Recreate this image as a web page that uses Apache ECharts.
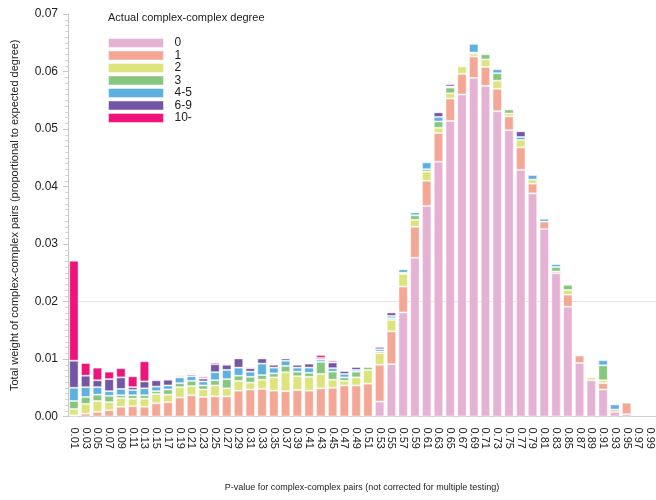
<!DOCTYPE html>
<html>
<head>
<meta charset="utf-8">
<script src="https://cdn.jsdelivr.net/npm/echarts@6/dist/echarts.min.js"></script>
<style>
  html, body { margin: 0; padding: 0; background: #ffffff; }
  #chart { width: 656px; height: 500px; }
</style>
</head>
<body>
<div id="chart"></div>
<script>
// P-value bins (bin centres)
const categories = ['0.01','0.03','0.05','0.07','0.09','0.11','0.13','0.15','0.17','0.19',
  '0.21','0.23','0.25','0.27','0.29','0.31','0.33','0.35','0.37','0.39',
  '0.41','0.43','0.45','0.47','0.49','0.51','0.53','0.55','0.57','0.59',
  '0.61','0.63','0.65','0.67','0.69','0.71','0.73','0.75','0.77','0.79',
  '0.81','0.83','0.85','0.87','0.89','0.91','0.93','0.95','0.97','0.99'];

// Stacked weights per actual complex-complex degree
const deg0 = [0,0,0,0,0,0,0,0,0,0,
  0,0,0,0,0,0,0,0,0,0,
  0,0,0,0,0,0,0.0026,0.0091,0.0181,0.0276,
  0.0366,0.0443,0.0514,0.0560,0.0589,0.0575,0.0531,0.0498,0.0429,0.0388,
  0.0326,0.0249,0.0191,0.0093,0.0063,0.0047,0.0008,0.0004,0,0];
const deg1 = [0.0002,0.0005,0.0008,0.0011,0.0017,0.0018,0.0017,0.0023,0.0025,0.0033,
  0.0037,0.0034,0.0035,0.0035,0.0045,0.0047,0.0048,0.0045,0.0044,0.0046,
  0.0045,0.0049,0.0050,0.0054,0.0054,0.0057,0.0064,0.0057,0.0045,0.0054,
  0.0044,0.0050,0.0039,0.0036,0.0037,0.0033,0.0039,0.0024,0.0039,0.0017,
  0.0013,0.0003,0.0021,0.0013,0,0.0011,0.0004,0.0020,0,0];
const deg2 = [0.0011,0.0017,0.0019,0.0014,0.0015,0.0013,0.0014,0.0016,0.0013,0.0018,
  0.0016,0.0013,0.0019,0.0014,0.0017,0.0012,0.0016,0.0023,0.0033,0.0024,
  0.0024,0.0025,0.0014,0.0008,0.0014,0.0024,0.0020,0.0020,0.0022,0.0012,
  0.0016,0.0009,0.0009,0.0013,0.0005,0.0013,0.0014,0.0005,0.0013,0.0007,
  0,0,0.0008,0,0.0005,0.0005,0,0,0,0];
const deg3 = [0.0014,0.0012,0.0011,0.0011,0.0005,0.0006,0.0006,0.0005,0.0009,0.0007,
  0.0009,0.0007,0.0009,0.0016,0.0009,0.0010,0.0008,0.0007,0.0011,0.0008,
  0.0007,0.0021,0.0014,0.0006,0.0010,0.0005,0.0003,0.0003,0.0002,0.0008,
  0.0004,0.0011,0.0010,0,0.0002,0.0009,0.0013,0.0007,0,0,
  0,0.0008,0.0009,0,0,0.0026,0,0,0,0];
const deg4to5 = [0.0023,0.0017,0.0013,0.0008,0.0011,0.0009,0.0012,0.0008,0.0007,0.0010,
  0.0008,0.0007,0.0014,0.0016,0.0014,0.0009,0.0020,0.0010,0.0009,0.0007,
  0.0009,0.0004,0.0006,0.0006,0.0003,0,0.0004,0.0004,0.0006,0.0005,
  0.0012,0.0008,0.0002,0,0.0015,0,0.0007,0,0.0005,0.0008,
  0.0005,0.0005,0,0,0,0.0009,0.0009,0,0,0];
const deg6to9 = [0.0047,0.0020,0.0012,0.0021,0.0020,0.0005,0.0012,0.0011,0.0010,0.0002,
  0.0003,0.0005,0.0014,0.0009,0.0016,0.0006,0.0009,0.0005,0.0004,0.0005,
  0.0007,0.0003,0.0010,0.0005,0.0005,0,0.0004,0.0006,0,0,
  0,0.0008,0.0004,0,0,0,0,0,0.0010,0,
  0,0,0,0,0,0,0,0,0,0];
const deg10plus = [0.0174,0.0022,0.0022,0.0013,0.0016,0.0019,0.0035,0.0002,0.0001,0.0002,
  0.0002,0.0003,0.0003,0.0002,0,0.0002,0,0,0,0,
  0,0.0005,0.0003,0,0,0,0,0,0,0,
  0,0,0,0,0,0,0,0,0,0,
  0,0,0,0,0,0,0,0,0,0];

const seriesNames = ['0', '1', '2', '3', '4-5', '6-9', '10-'];
const seriesData = [deg0, deg1, deg2, deg3, deg4to5, deg6to9, deg10plus];
const seriesColors = ['#E6B2D4', '#F5A795', '#DDE47B', '#87C77D', '#5EB0E0', '#7556A6', '#EE1479'];

const font = 'Liberation Sans, Arial, sans-serif';

const chart = echarts.init(document.getElementById('chart'), null, { renderer: 'canvas' });

const series = seriesNames.map((name, i) => ({
  name: name,
  type: 'bar',
  stack: 'total',
  barWidth: '80%',
  data: seriesData[i].map(v => (v > 0 ? v : null)),
  itemStyle: {
    color: seriesColors[i],
    borderColor: 'rgba(255,255,255,0.45)',
    borderWidth: 1
  },
  emphasis: { disabled: true },
  animation: false
}));

// Only the 0.02 level carries a faint guide line, drawn behind the bars
const clear = 'rgba(0,0,0,0)';
const splitColors = [clear, clear, '#e4e4e4', clear, clear, clear, clear, clear];

chart.setOption({
  backgroundColor: '#ffffff',
  animation: false,
  textStyle: { fontFamily: font },
  title: {
    text: 'Actual complex-complex degree',
    left: 108,
    top: 12,
    padding: 0,
    textStyle: { fontFamily: font, fontSize: 11, fontWeight: 'normal', color: '#222' }
  },
  legend: {
    orient: 'vertical',
    left: 108,
    top: 37,
    padding: 0,
    itemWidth: 55,
    itemHeight: 9,
    itemGap: 0.5,
    icon: 'rect',
    selectedMode: false,
    data: seriesNames,
    itemStyle: { borderColor: 'rgba(255,255,255,0.45)', borderWidth: 1 },
    textStyle: { fontFamily: font, fontSize: 12, color: '#222', padding: [0, 0, 0, 6] }
  },
  grid: { left: 68, right: 0, top: 14, bottom: 83.5, outerBoundsMode: 'none', containLabel: false },
  xAxis: {
    type: 'category',
    data: categories,
    name: 'P-value for complex-complex pairs (not corrected for multiple testing)',
    nameLocation: 'middle',
    nameGap: 67,
    nameTextStyle: { fontFamily: font, fontSize: 9, color: '#222' },
    axisLine: { lineStyle: { color: '#d0d0d0' } },
    axisTick: { show: false },
    axisLabel: { interval: 0, rotate: -90, margin: 11, fontFamily: font, fontSize: 11, color: '#222' }
  },
  yAxis: {
    type: 'value',
    min: 0,
    max: 0.07,
    interval: 0.01,
    name: 'Total weight of complex-complex pairs (proportional to expected degree)',
    nameLocation: 'middle',
    nameGap: 48,
    nameTextStyle: { fontFamily: font, fontSize: 11, color: '#222' },
    axisLine: { show: true, lineStyle: { color: '#c8c8c8' } },
    axisTick: { show: true, length: 5, lineStyle: { color: '#c8c8c8' } },
    minorTick: { show: true, splitNumber: 10, length: 3, lineStyle: { color: '#d4d4d4' } },
    splitLine: { show: true, lineStyle: { color: splitColors, width: 1 } },
    axisLabel: {
      margin: 10,
      fontFamily: font,
      fontSize: 12,
      color: '#222',
      formatter: v => v.toFixed(2)
    }
  },
  series: series
});
</script>
</body>
</html>
